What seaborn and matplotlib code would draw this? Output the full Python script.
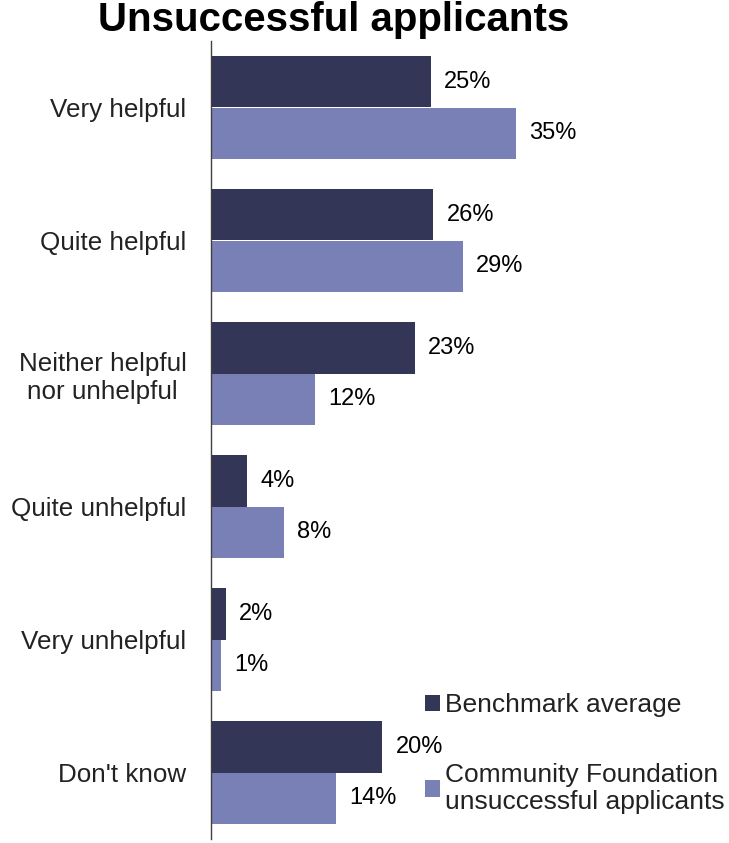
import matplotlib
matplotlib.use("Agg")
import matplotlib.pyplot as plt
import seaborn as sns
import pandas as pd

categories = ["Very helpful", "Quite helpful", "Neither helpful\nnor unhelpful",
              "Quite unhelpful", "Very unhelpful", "Don't know"]
series_names = ["Benchmark average", "Community Foundation\nunsuccessful applicants"]
# bar lengths (labels show rounded values)
benchmark = [25.25, 25.55, 23.42, 4.22, 1.78, 19.70]
community = [35.0, 28.92, 12.04, 8.43, 1.17, 14.39]
benchmark_labels = [25, 26, 23, 4, 2, 20]
community_labels = [35, 29, 12, 8, 1, 14]
colors = ["#333657", "#7880B5"]

rows = []
for c, b, m in zip(categories, benchmark, community):
    rows.append({"cat": c, "series": series_names[0], "val": b})
    rows.append({"cat": c, "series": series_names[1], "val": m})
df = pd.DataFrame(rows)

sns.set_style("white")
plt.rcParams['font.family'] = ['Liberation Sans', 'DejaVu Sans']

fig = plt.figure(figsize=(7.29, 8.43), dpi=100)
ax = fig.add_axes([210.5/729, 4/843, 1 - 210.5/729, 798/843])
sns.barplot(data=df, y="cat", x="val", hue="series", orient="h",
            palette=colors, width=0.77, ax=ax, saturation=1, legend=True,
            linewidth=0)

for cont, labs in zip(ax.containers, [benchmark_labels, community_labels]):
    ax.bar_label(cont, labels=[f"{v}%" for v in labs], padding=9.5,
                 fontsize=17, color="black")

ax.set_xlim(0, 518.5 / 8.72)
ax.set_ylim(5.5, -0.5)
ax.set_xlabel("")
ax.set_ylabel("")
ax.set_xticks([])
for s in ["top", "right", "bottom"]:
    ax.spines[s].set_visible(False)
ax.spines["left"].set_color("#404040")
ax.spines["left"].set_linewidth(1.0)
ax.tick_params(axis="y", length=0, pad=17.3, labelsize=18.7)
for t in ax.get_yticklabels():
    t.set_multialignment("center")
    t.set_color("#222222")

leg = ax.legend(loc="upper left", bbox_to_anchor=(425 / 729, 1 - 693 / 843),
                bbox_transform=fig.transFigure,
                frameon=False, fontsize=19, handlelength=0.57, handleheight=0.57,
                handletextpad=0.2, labelspacing=1.75, borderaxespad=0, borderpad=0)
for t in leg.get_texts():
    t.set_color("#222222")
    t.set_linespacing(1.13)

fig.text(334 / 729, 1 - 20 / 843, "Unsuccessful applicants", ha="center", va="center",
         fontsize=29, fontweight="bold", color="black",
         family=['Liberation Sans', 'DejaVu Sans'])

fig.savefig("out.png", dpi=100)
